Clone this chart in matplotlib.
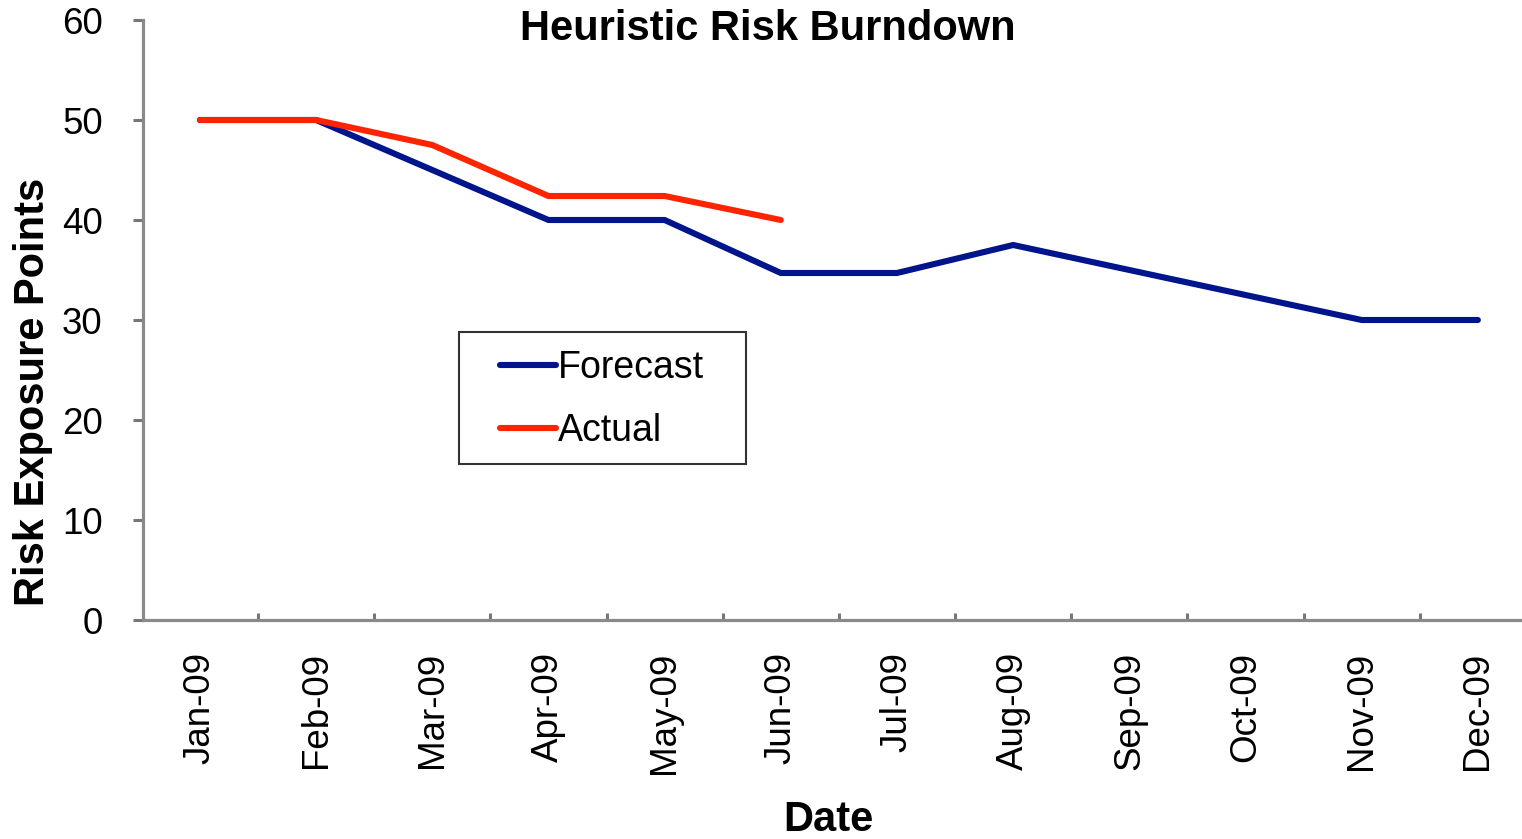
import matplotlib
matplotlib.use("Agg")
from matplotlib import pyplot as plt
from matplotlib.patches import Rectangle
from matplotlib.ticker import FixedLocator

months = ['Jan-09', 'Feb-09', 'Mar-09', 'Apr-09', 'May-09', 'Jun-09',
          'Jul-09', 'Aug-09', 'Sep-09', 'Oct-09', 'Nov-09', 'Dec-09']
forecast = [50, 50, 45, 40, 40, 34.7, 34.7, 37.5, 35, 32.5, 30, 30]
actual = [50, 50, 47.5, 42.4, 42.4, 40]
y_ticks = [0, 10, 20, 30, 40, 50, 60]

AXIS_GRAY = '#8a8a8a'
W, H = 1522, 839
plt.rcParams['font.family'] = ['Liberation Sans', 'DejaVu Sans']

fig = plt.figure(figsize=(W / 100, H / 100), dpi=100)
ax = fig.add_axes([143 / W, 1 - 620 / H, 1 - 143 / W, 600 / H])

x_f = list(range(len(forecast)))
x_a = list(range(len(actual)))
ax.plot(x_f, forecast, color='#00148c', lw=4.4, label='Forecast',
        solid_capstyle='round', solid_joinstyle='miter')
ax.plot(x_a, actual, color='#ff2400', lw=4.4, label='Actual',
        solid_capstyle='round', solid_joinstyle='miter')

ax.set_xlim(-0.49, 11.38)
ax.set_ylim(0, 60)
ax.set_yticks(y_ticks)
ax.set_xticks(x_f)
ax.set_xticklabels(months, rotation=90, fontsize=26.5)
ax.xaxis.set_minor_locator(FixedLocator([i + 0.5 for i in range(len(months))]))

for s in ['top', 'right']:
    ax.spines[s].set_visible(False)
for s in ['left', 'bottom']:
    ax.spines[s].set_color(AXIS_GRAY)
    ax.spines[s].set_linewidth(2.3)

ax.tick_params(axis='x', which='major', length=0, pad=23)
ax.tick_params(axis='x', which='minor', direction='in', length=5,
               width=2.2, color='#777777')
ax.tick_params(axis='y', which='major', direction='out', length=7,
               width=2.2, color='#777777', pad=22, labelsize=26.5)

# legend without its own frame, box drawn around it with wider padding
leg = ax.legend(loc='upper left', bbox_transform=fig.transFigure,
                bbox_to_anchor=(500 / W, 1 - 350 / H),
                borderaxespad=0, borderpad=0, fontsize=27, handlelength=1.5,
                handletextpad=0.05, labelspacing=0.72, frameon=False)
fig.canvas.draw()
bb = leg.get_window_extent()
box = Rectangle((bb.x0 - 41, bb.y0 - 15), bb.width + 41 + 42, bb.height + 33,
                transform=None, fill=False, edgecolor='#333333', lw=1.5,
                zorder=5)
fig.add_artist(box)

fig.text(768 / W, 1 - 29 / H, 'Heuristic Risk Burndown',
         ha='center', va='center', fontsize=30, fontweight='bold')
fig.text(33 / W, 1 - 392 / H, 'Risk Exposure Points', rotation=90,
         ha='center', va='center', fontsize=30, fontweight='bold')
fig.text(828 / W, 1 - 820 / H, 'Date',
         ha='center', va='center', fontsize=30, fontweight='bold')

fig.savefig('out.png', dpi=100)
